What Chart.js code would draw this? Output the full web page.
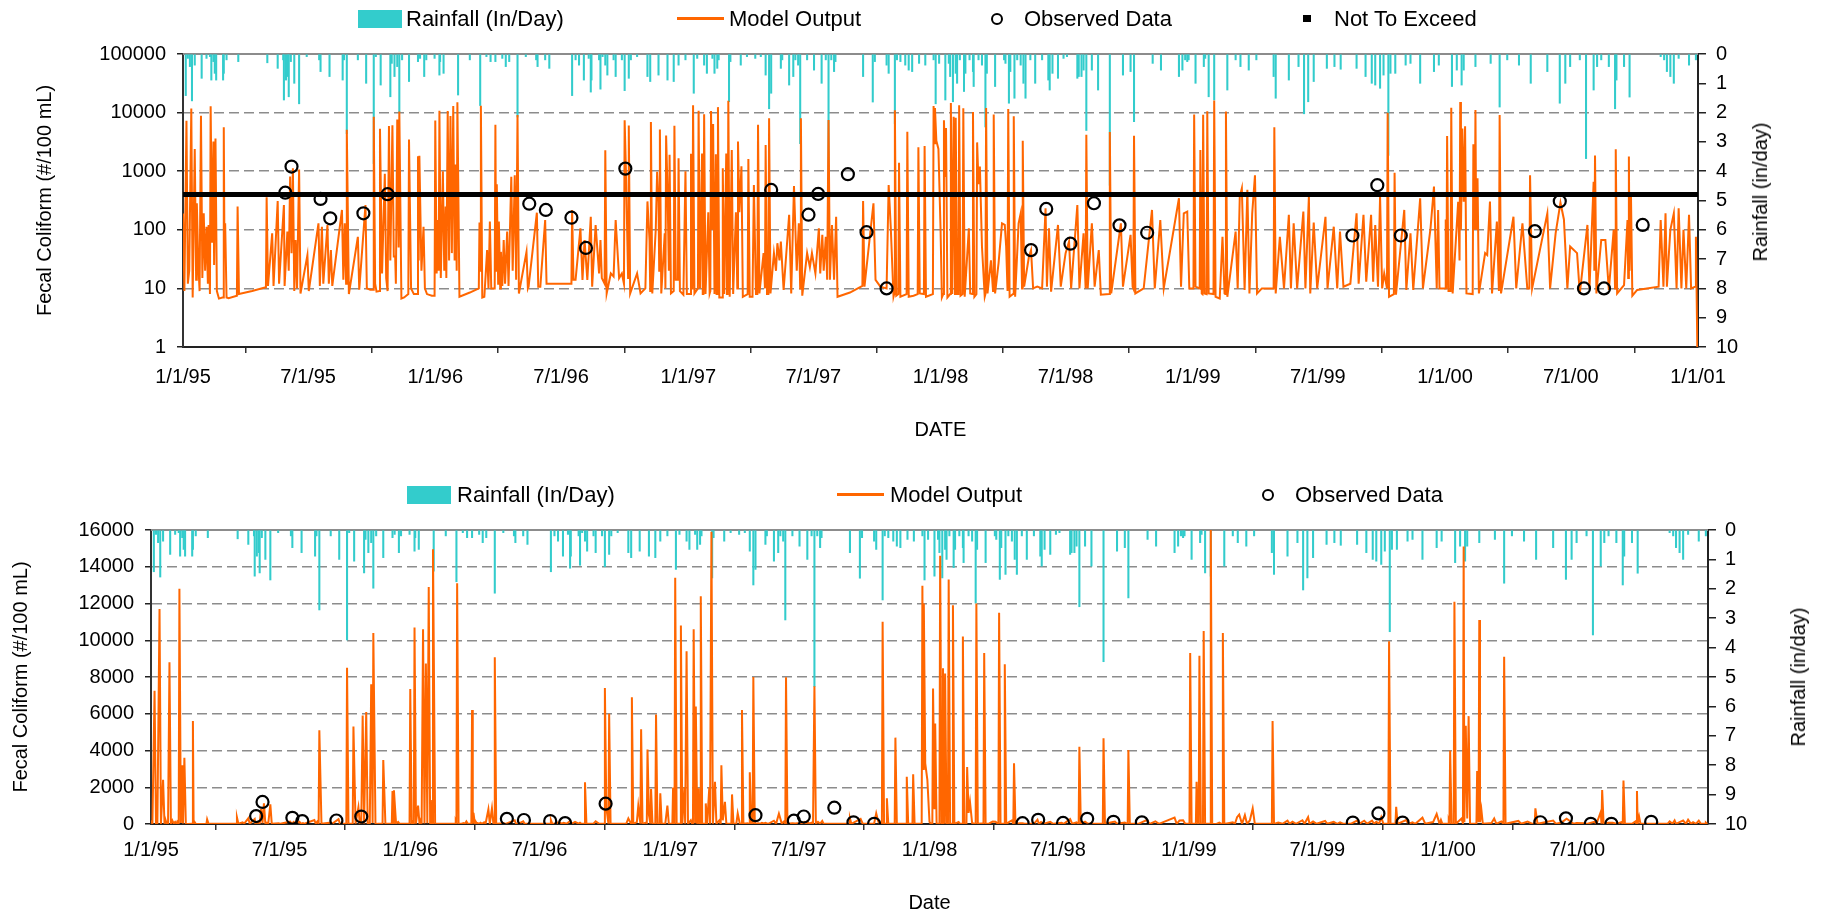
<!DOCTYPE html>
<html>
<head>
<meta charset="utf-8">
<script src="https://cdn.jsdelivr.net/npm/chart.js@4.4.1/dist/chart.umd.min.js"></script>
<style>
  html,body{margin:0;padding:0;background:#fff;}
  body{width:1824px;height:918px;overflow:hidden;position:relative;font-family:"Liberation Sans",Arial,sans-serif;color:#000;}
  canvas{position:absolute;left:0;}
  .lt{position:absolute;font-size:22px;line-height:26px;white-space:nowrap;}
  .sw{position:absolute;background:#33CCCC;}
  .ln{position:absolute;background:#FF6600;height:3px;}
  .ci{position:absolute;width:8px;height:8px;border:2px solid #000;border-radius:50%;}
  .sq{position:absolute;background:#000;width:8px;height:7px;}
  .rt{position:absolute;font-size:20px;line-height:24px;white-space:nowrap;transform:translate(-50%,-50%) rotate(-90deg);}
</style>
</head>
<body>
<canvas id="c1" width="1824" height="460" style="top:0"></canvas>
<canvas id="c2" width="1824" height="458" style="top:460px"></canvas>

<!-- top legend -->
<div class="sw" style="left:358px;top:10px;width:44px;height:18px"></div>
<div class="lt" style="left:406px;top:6px">Rainfall (In/Day)</div>
<div class="ln" style="left:677px;top:17px;width:47px"></div>
<div class="lt" style="left:729px;top:6px">Model Output</div>
<div class="ci" style="left:991px;top:13px"></div>
<div class="lt" style="left:1024px;top:6px">Observed Data</div>
<div class="sq" style="left:1303px;top:15px"></div>
<div class="lt" style="left:1334px;top:6px">Not To Exceed</div>
<div class="rt" style="left:1760px;top:192px">Rainfall (in/day)</div>

<!-- bottom legend -->
<div class="sw" style="left:407px;top:486px;width:44px;height:18px"></div>
<div class="lt" style="left:457px;top:482px">Rainfall (In/Day)</div>
<div class="ln" style="left:837px;top:493px;width:47px"></div>
<div class="lt" style="left:890px;top:482px">Model Output</div>
<div class="ci" style="left:1262px;top:489px"></div>
<div class="lt" style="left:1295px;top:482px">Observed Data</div>
<div class="rt" style="left:1798px;top:677px">Rainfall (in/day)</div>

<script>
// ---------------- DATA ----------------
// x values are days since 1/1/95
const tickLabels = ['1/1/95','7/1/95','1/1/96','7/1/96','1/1/97','7/1/97','1/1/98','7/1/98','1/1/99','7/1/99','1/1/00','7/1/00','1/1/01'];
const logTicks = [1,10,100,1000,10000,100000];
const notToExceed = 400;

const obsDays   = [148,157,199,213,261,296,501,525,562,583,640,851,905,919,962,989,1018,1227,1249,1284,1318,1355,1395,1692,1728,1762,1956,1992,2027,2056,2112];
const obsValues = [430,1200,336,157,191,405,279,218,161,49,1107,479,181,409,889,91,10,45,227,58,284,119,89,80,577,80,95,307,10,10,121];

// rainfall [day, inches]
const rain1995 = [[4,1.42],[7,0.15],[10,0.43],[13,1.6],[17,0.38],[27,0.83],[34,0.15],[39,0.09],[41,0.89],[44,0.26],[46,0.66],[48,0.89],[58,0.89],[59,0.66],[63,0.2],[80,0.26],[122,0.3],[137,0.49],[145,0.2],[146,1.57],[149,0.89],[152,0.77],[153,1.46],[156,0.26],[161,1.0],[168,1.7],[179,0.09],[197,0.2],[199,0.6],[212,0.77],[231,0.89],[233,0.2],[237,2.72],[253,0.2],[265,1.0],[276,3.74],[279,0.09],[286,1.06],[300,1.46],[302,0.32],[306,0.77],[310,0.43],[313,1.98],[317,0.2],[327,0.94],[340,0.26],[343,0.15],[349,0.77],[352,0.2],[364,0.15]];
const rain1996 = [[371,0.72],[372,0.26],[377,0.66],[398,1.4],[415,0.2],[430,1.76],[439,0.09],[445,0.26],[452,0.26],[462,0.15],[467,0.43],[472,0.26],[484,2.15],[496,0.09],[511,0.2],[513,0.43],[524,0.2],[530,0.49],[563,1.42],[568,0.2],[573,0.38],[580,0.89],[587,0.15],[590,1.3],[591,0.89],[602,0.2],[604,1.2],[607,0.09],[611,0.38],[614,0.72],[623,0.2],[626,0.77],[635,0.2],[639,1.25],[645,0.83],[648,0.2],[657,0.09],[672,0.77],[676,0.94],[688,0.72],[701,0.89],[710,0.94],[717,0.38],[727,0.2]];
const rain1997 = [[739,1.34],[744,0.15],[754,0.38],[758,0.66],[766,0.15],[769,0.66],[773,0.49],[775,0.2],[790,1.63],[792,0.26],[807,0.38],[816,0.09],[828,0.15],[836,0.09],[843,0.72],[848,1.87],[851,1.34],[865,0.49],[867,0.2],[877,1.06],[883,0.77],[886,0.2],[890,0.38],[893,3.06],[903,0.2],[913,0.55],[924,1.0],[930,0.2],[934,5.33],[938,0.2],[942,0.6],[944,0.26],[984,0.77],[998,1.64],[1001,0.26],[1018,0.38],[1021,0.66],[1030,2.38],[1033,0.2],[1038,0.26],[1045,0.38],[1050,0.55],[1055,0.6],[1065,0.32],[1074,0.38],[1086,0.2],[1089,1.7],[1094,0.32]];
const rain1998 = [[1103,1.57],[1108,0.32],[1110,0.77],[1114,1.63],[1118,0.66],[1120,1.0],[1124,0.2],[1130,1.28],[1132,0.66],[1138,0.2],[1143,0.6],[1144,1.11],[1151,0.2],[1156,0.38],[1161,2.49],[1163,0.66],[1175,1.11],[1188,0.2],[1190,0.32],[1195,1.68],[1197,0.6],[1203,1.51],[1207,0.2],[1212,0.38],[1216,1.0],[1219,1.51],[1226,0.2],[1233,1.0],[1243,0.2],[1252,0.89],[1254,1.23],[1258,0.66],[1266,0.83],[1274,0.15],[1279,0.09],[1294,0.83],[1296,0.77],[1300,0.77],[1303,0.55],[1307,2.61],[1315,0.55],[1324,1.23],[1341,4.48],[1360,0.72],[1371,0.6],[1376,2.31],[1403,0.32],[1415,0.55],[1441,0.77],[1446,0.55],[1450,0.2],[1453,0.26],[1455,0.2]];
const rain1999 = [[1465,1.0],[1477,0.43],[1479,0.15],[1484,1.46],[1492,1.57],[1511,1.23],[1523,0.2],[1530,0.43],[1542,0.55],[1553,0.2],[1578,0.77],[1581,1.51],[1600,0.89],[1614,0.43],[1622,2.04],[1628,1.63],[1636,0.94],[1655,0.49],[1666,0.43],[1675,0.52],[1698,0.49],[1711,0.77],[1720,1.0],[1725,1.06],[1732,1.17],[1737,0.72],[1744,3.46],[1747,0.66],[1754,0.66],[1769,0.38],[1776,0.32],[1790,1.0],[1810,0.6],[1817,0.38]];
const rain2000 = [[1836,1.11],[1843,0.55],[1850,1.06],[1853,0.55],[1870,0.43],[1892,0.32],[1905,1.81],[1916,0.2],[1933,0.38],[1950,1.0],[1974,0.6],[1992,1.68],[2000,1.0],[2007,0.43],[2021,0.2],[2030,3.57],[2041,1.23],[2046,0.43],[2052,0.2],[2063,0.43],[2072,1.87],[2074,0.89],[2085,0.43],[2093,1.47],[2138,0.09],[2143,0.2],[2147,0.6],[2152,0.77],[2157,1.0],[2164,0.15],[2179,0.38],[2189,0.2]];

// model output [day, #/100 mL]
const model1995 = [[0,190],[2,9],[5,7250],[7,12],[9,20],[12,11700],[14,7],[17,2400],[19,14],[20,283],[22,30],[24,9],[26,8800],[28,15],[30,191],[32,20],[34,113],[36,12],[37,121],[39,8],[40,12800],[42,60],[44,3200],[45,25],[47,3600],[49,9],[52,6.7],[57,7],[58,7],[59,5600],[60,40],[61,129],[63,7],[66,6.8],[78,7.5],[79,250],[81,8],[100,9],[120,10.5],[121,360],[123,11],[129,87],[131,11],[137,310],[139,12],[146,265],[147,11],[151,93],[153,20],[155,811],[157,40],[159,1120],[161,9],[163,67],[165,10],[168,1070],[170,8.2],[180,37],[182,9],[196,129],[198,11],[201,113],[203,12],[209,121],[211,12],[214,45],[216,11],[230,218],[232,14],[234,129],[236,12],[237,5100],[240,8],[253,76],[255,9.5],[264,265],[266,10],[271,9.5],[275,9.5],[276,8500],[278,12],[280,8.8],[284,9],[285,5300],[288,18],[292,906],[294,15],[296,9],[298,5900],[300,30],[303,6100],[305,35],[307,35],[308,12],[310,7600],[312,50],[313,10400],[316,6.7],[320,7],[326,8],[327,3480],[330,10],[334,8],[339,8],[340,1800],[341,30],[342,1830],[345,20],[348,113],[350,10],[353,8],[360,7.5],[364,7.5]];
const model1996 = [[365,7340],[367,18],[369,147],[370,20],[371,10700],[373,15],[376,1000],[378,20],[380,249],[381,15],[383,10600],[385,30],[387,8740],[389,40],[391,12900],[393,30],[394,1300],[396,20],[397,14950],[400,7.2],[415,8.5],[428,10],[429,133],[430,20],[431,13100],[433,7],[436,7.2],[440,45],[442,10],[444,138],[446,10],[451,10],[452,6200],[453,20],[454,600],[456,12],[457,138],[459,10],[460,42],[462,11],[464,67],[466,12],[469,93],[471,11],[475,800],[477,20],[480,850],[482,14],[483,14],[484,9080],[486,8.2],[497,42],[499,10],[500,10.7],[512,196],[514,10.7],[517,10.7],[524,147],[526,12],[530,12],[546,12],[562,12],[563,218],[565,14],[568,14],[575,106],[578,14],[581,67],[585,14],[590,167],[592,10.7],[597,121],[602,18],[604,67],[606,15],[610,12],[611,2270],[613,8.2],[619,18],[623,16],[626,147],[631,15],[635,18],[638,12],[639,7400],[641,900],[644,15],[645,6000],[647,8.2],[657,18],[662,8.2],[669,10],[672,305],[675,67],[676,9],[677,6900],[679,8.2],[684,100],[686,980],[688,300],[689,20],[690,5150],[692,8.2],[697,87],[698,10],[699,4060],[701,500],[703,20],[704,1900],[706,8.2],[710,9],[711,5960],[713,14],[716,14],[717,1670],[719,9],[724,7.8],[727,1000],[729,8]];
const model1997 = [[734,8],[735,1980],[736,10],[737,10],[738,13400],[740,8.2],[745,10],[746,10800],[748,10],[751,2000],[752,8],[753,8],[754,9400],[756,8],[760,200],[762,8.2],[763,9],[764,10600],[766,100],[767,6400],[769,8],[771,1940],[772,8],[773,8],[774,12400],[776,7],[780,7],[781,1120],[783,8],[786,2000],[787,8],[788,8],[789,15900],[791,7.2],[794,2300],[796,8],[800,200],[802,10],[803,3200],[805,200],[808,1210],[810,7.2],[817,8],[818,1610],[820,7.2],[824,7.2],[826,580],[829,8],[831,8],[832,6200],[834,8.2],[840,40],[842,10],[843,2810],[845,8],[847,8],[848,8000],[850,8.2],[855,40],[858,20],[860,59],[863,30],[865,63],[869,9.4],[877,180],[880,8.2],[884,561],[888,20],[891,129],[893,10],[894,7980],[896,7.5],[903,40],[907,23],[910,40],[915,18],[920,106],[922,18],[925,82],[927,20],[930,76],[932,14],[933,14],[934,7500],[936,14],[939,121],[942,14],[945,167],[947,7.2],[965,8.5],[983,11],[984,311],[986,10.7],[999,284],[1002,14],[1009,10.7],[1018,10],[1021,580],[1024,113],[1028,7.2],[1029,8],[1030,11000],[1032,7.5],[1035,8],[1036,1400],[1038,7.2],[1047,8],[1048,4700],[1050,7.2],[1057,7.5],[1063,8],[1064,2570],[1066,8.2],[1072,8],[1073,2700],[1075,7.2],[1085,8],[1086,12960],[1087,3000],[1088,12000],[1090,3300],[1093,2400]];
const model1998 = [[1096,113],[1098,7],[1100,8],[1101,7380],[1103,800],[1104,5470],[1106,7],[1110,8],[1111,14600],[1113,8],[1114,8],[1115,8470],[1117,8],[1118,8190],[1120,8],[1122,8],[1123,13300],[1125,7.5],[1128,8],[1129,11900],[1131,7.2],[1137,106],[1139,8.2],[1142,8],[1143,10200],[1145,7.2],[1148,8],[1149,3100],[1151,600],[1153,1200],[1156,52],[1160,7.2],[1161,8],[1162,12000],[1164,8.2],[1169,30],[1172,9],[1173,9300],[1175,8.2],[1180,27],[1185,129],[1189,121],[1191,52],[1193,9],[1194,11500],[1196,7.2],[1201,8],[1202,8700],[1204,7.2],[1209,129],[1212,191],[1214,10],[1215,3300],[1217,10.7],[1224,35],[1227,45],[1230,10],[1236,10.7],[1243,10],[1248,233],[1250,10.7],[1253,106],[1256,8.8],[1266,121],[1270,10.7],[1277,40],[1282,63],[1285,10],[1294,265],[1297,10],[1303,87],[1306,10],[1307,4200],[1309,10],[1315,129],[1319,10.7],[1325,45],[1328,7.8],[1340,8],[1341,4660],[1343,8.2],[1357,129],[1360,10.7],[1371,82],[1374,10.7],[1375,10],[1376,4020],[1378,8.2],[1390,10],[1402,218],[1406,10],[1414,147],[1419,10],[1441,345],[1444,10.7],[1448,191],[1453,205],[1456,10]];
const model1999 = [[1462,10],[1463,9300],[1465,10.7],[1471,10],[1472,2300],[1474,8.2],[1475,8],[1476,9150],[1478,8.2],[1481,8],[1482,10500],[1484,8.2],[1491,8],[1492,16100],[1494,7.2],[1500,6.7],[1504,76],[1507,8.2],[1508,8],[1509,10400],[1511,7.2],[1523,93],[1526,10],[1529,369],[1532,510],[1536,9.4],[1540,480],[1543,8.2],[1547,191],[1551,850],[1554,8.2],[1561,10],[1578,10],[1579,5600],[1581,8.2],[1587,76],[1593,10],[1600,180],[1603,10],[1607,129],[1612,10],[1621,205],[1624,10],[1629,369],[1631,8.2],[1636,133],[1641,10],[1653,167],[1656,10],[1665,113],[1670,10],[1674,93],[1679,10.7],[1689,12],[1698,191],[1701,12],[1708,180],[1712,13],[1719,180],[1722,13],[1725,121],[1729,10.7],[1732,369],[1735,10],[1738,18],[1742,10],[1743,9950],[1745,7.2],[1752,8],[1753,940],[1755,7.8],[1767,218],[1770,9.4],[1776,87],[1780,9.4],[1790,345],[1794,10],[1805,106],[1810,545],[1814,10],[1816,218],[1818,10]];
const model2000 = [[1826,10],[1827,150],[1828,10],[1829,4000],[1831,9],[1834,9],[1835,12100],[1837,8.2],[1845,300],[1847,30],[1848,15100],[1849,100],[1851,5350],[1853,300],[1855,5870],[1857,8.2],[1866,8],[1867,2880],[1869,100],[1870,11100],[1871,100],[1873,760],[1875,8.2],[1884,40],[1887,37],[1891,303],[1894,8.2],[1901,138],[1904,9],[1905,9100],[1907,8.2],[1925,167],[1929,10],[1938,129],[1945,10],[1948,10],[1949,850],[1952,10],[1974,191],[1978,10],[1986,87],[1993,290],[1998,150],[2003,10],[2007,52],[2017,40],[2021,8.2],[2032,121],[2035,10],[2041,660],[2042,20],[2043,1850],[2045,8.2],[2052,67],[2058,67],[2063,9.4],[2070,100],[2072,10],[2073,2360],[2075,8.2],[2085,11.4],[2090,147],[2091,15],[2092,1790],[2093,20],[2095,400],[2097,7.5],[2104,9.4],[2135,10.7],[2138,147],[2142,10.7],[2145,191],[2147,10.7],[2152,100],[2157,191],[2161,10],[2164,233],[2168,10],[2171,100],[2175,10],[2179,180],[2182,10],[2188,10.7],[2189,76],[2191,1]];

// ---------------- BUILD ----------------
const toXY = arr => arr.map(([x,y]) => ({x, y}));
function labelDay(lbl){
  const [m,d,y] = lbl.split('/').map(Number);
  const yr = y >= 50 ? 1900 + y : 2000 + y;
  return Math.round((Date.UTC(yr, m-1, d) - Date.UTC(1995,0,1)) / 86400000);
}
const tickDays = tickLabels.map(labelDay);
const xMax = tickDays[tickDays.length-1];

const rainPts  = toXY([].concat(rain1995, rain1996, rain1997, rain1998, rain1999, rain2000));
const modelPts = toXY([].concat(model1995, model1996, model1997, model1998, model1999, model2000));
const obsPts   = obsDays.map((d,i) => ({x:d, y:obsValues[i]}));

Chart.defaults.font.family = '"Liberation Sans", Arial, sans-serif';
Chart.defaults.color = '#000';

const topBorder = {
  id:'topBorder',
  beforeDatasetsDraw(chart){
    const {ctx, chartArea:a} = chart;
    ctx.save(); ctx.strokeStyle = '#8c8c8c'; ctx.lineWidth = 2;
    ctx.beginPath(); ctx.moveTo(a.left, a.top); ctx.lineTo(a.right, a.top); ctx.stroke();
    ctx.restore();
  }
};

function makeChart(id, opts){
  const datasets = [];
  datasets.push({type:'line', label:'Observed Data', data: obsPts, yAxisID:'y', showLine:false,
    pointRadius:6, pointHoverRadius:6, pointBorderWidth:2.2, pointBorderColor:'#000', pointBackgroundColor:'rgba(0,0,0,0)', order:0});
  if (opts.nte) {
    datasets.push({type:'line', label:'Not To Exceed', data:[{x:0,y:notToExceed},{x:xMax,y:notToExceed}], yAxisID:'y',
      borderColor:'#000', borderWidth:5, pointRadius:0, order:1});
  }
  datasets.push({type:'line', label:'Model Output', data: modelPts, yAxisID:'y', borderColor:'#FF6600', borderWidth:2,
    pointRadius:0, tension:0, order:2});
  datasets.push({type:'bar', label:'Rainfall (In/Day)', data: rainPts, yAxisID:'y2', backgroundColor:'#33CCCC',
    barThickness:1.4, grouped:false, order:3});

  return new Chart(document.getElementById(id), {
    type:'line',
    data:{datasets},
    plugins:[topBorder],
    options:{
      responsive:false, animation:false, events:[],
      layout:{padding:{top:opts.padTop, left:0, right:0, bottom:0}},
      plugins:{legend:{display:false}, tooltip:{enabled:false}},
      scales:{
        x:{
          type:'linear', min:0, max:xMax, offset:false,
          afterBuildTicks: a => { a.ticks = tickDays.map(v => ({value:v})); },
          afterFit: s => { s.height = opts.xH; },
          ticks:{autoSkip:false, maxRotation:0, font:{size:20}, color:'#000', padding:opts.xPad,
            callback: v => { const i = tickDays.indexOf(v); return (i < 0 || (opts.hideLast && i === tickDays.length-1)) ? '' : tickLabels[i]; }},
          grid:{drawOnChartArea:false, drawTicks:true, tickLength:6, color:'#333', lineWidth:1.5},
          border:{color:'#222', width:2},
          title:{display:true, text:opts.xTitle, font:{size:20}, color:'#000', padding:{top:0, bottom:opts.xTitlePad}}
        },
        y: opts.y,
        y2:{
          type:'linear', position:'right', reverse:true, min:0, max:10,
          afterFit: s => { s.width = opts.y2W; },
          ticks:{stepSize:1, font:{size:20}, color:'#000', padding:opts.y2Pad},
          grid:{drawOnChartArea:false, drawTicks:true, tickLength:8, color:'#222', lineWidth:1.5},
          border:{color:'#222', width:2}
        }
      }
    }
  });
}

const gridColorFn = (lo, hi) => ctx => (ctx.tick && (ctx.tick.value === lo || ctx.tick.value === hi)) ? 'rgba(0,0,0,0)' : '#8c8c8c';

makeChart('c1', {
  nte:true, padTop:54, xH:113, xPad:12, xTitle:'DATE', xTitlePad:18, y2W:126, y2Pad:10, hideLast:false,
  y:{
    type:'logarithmic', position:'left', min:1, max:100000,
    afterBuildTicks: a => { a.ticks = logTicks.map(v => ({value:v})); },
    afterFit: s => { s.width = 183; },
    ticks:{autoSkip:false, font:{size:20}, color:'#000', padding:11, callback: v => String(v)},
    grid:{color: gridColorFn(1,100000), lineWidth:1.5, tickColor:'#222', tickLength:6, drawTicks:true},
    border:{color:'#333', width:2, dash:[10,5]},
    title:{display:true, text:'Fecal Coliform (#/100 mL)', font:{size:20}, color:'#000', padding:{top:33, bottom:0}}
  }
});

makeChart('c2', {
  nte:false, padTop:70, xH:94, xPad:8, xTitle:'Date', xTitlePad:3, y2W:116, y2Pad:9, hideLast:true,
  y:{
    type:'linear', position:'left', min:0, max:16000,
    afterFit: s => { s.width = 151; },
    ticks:{stepSize:2000, autoSkip:false, font:{size:20}, color:'#000', padding:11, callback: v => String(v)},
    grid:{color: gridColorFn(0,16000), lineWidth:1.5, tickColor:'#222', tickLength:6, drawTicks:true},
    border:{color:'#333', width:2, dash:[10,5]},
    title:{display:true, text:'Fecal Coliform (#/100 mL)', font:{size:20}, color:'#000', padding:{top:9, bottom:0}}
  }
});
</script>
</body>
</html>
